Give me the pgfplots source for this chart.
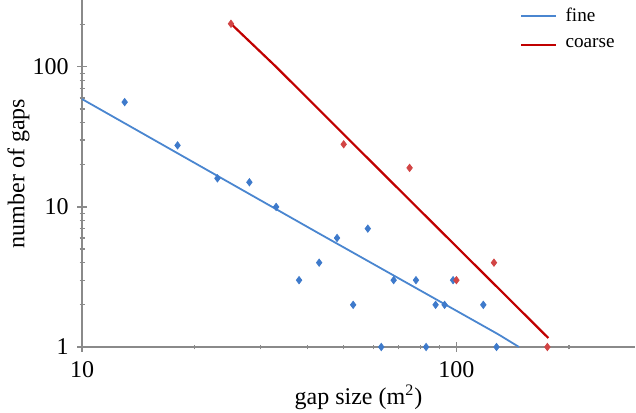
\documentclass[border=0pt]{standalone}
\usepackage{fontspec}
\setmainfont{Liberation Serif}
\usepackage{pgfplots}
\pgfplotsset{compat=1.18}
\definecolor{fineline}{HTML}{4A86D0}
\definecolor{finemark}{HTML}{3E7ACB}
\definecolor{coarseline}{HTML}{C00000}
\definecolor{coarsemark}{HTML}{D24545}
\definecolor{axgray}{HTML}{8A8A8A}
\begin{document}
\fontsize{12}{14}\selectfont
\begin{tikzpicture}
\begin{axis}[
  name=ax,
  xmode=log, ymode=log,
  scale only axis,
  width=276.5pt, height=173.5pt,
  xmin=10, xmax=300, ymin=1, ymax=300,
  axis x line*=bottom, axis y line*=left,
  axis line style={-, draw=axgray, line width=0.7pt},
  xtick={10,100}, xticklabels={10,100},
  ytick={1,10,100}, yticklabels={1,10,100},
  minor xtick={20,30,40,50,60,70,80,90,200},
  minor ytick={2,3,4,5,6,7,8,9,20,30,40,50,60,70,80,90,200},
  tick style={draw=axgray, line width=0.6pt},
  major tick length=5pt, minor tick length=2.5pt,
  tick align=center,
  /pgf/number format/assume math mode=true,
  xticklabel style={font=\fontsize{12}{14}\selectfont, anchor=north, inner sep=0pt, yshift=-4.5pt},
  yticklabel style={font=\fontsize{12}{14}\selectfont, anchor=east, inner sep=0pt, xshift=-4pt},
  xlabel={gap size (m\textsuperscript{2})},
  ylabel={number of gaps},
  xlabel style={at={(axis description cs:0.5,-0.108)}, anchor=north, inner sep=0pt, font=\fontsize{12}{14}\selectfont},
  ylabel style={at={(axis description cs:-0.094,0.5)}, anchor=south, inner sep=0pt, font=\fontsize{12}{14}\selectfont},
  legend style={draw=none, fill=none, at={(axis description cs:0.792,0.985)}, anchor=north west,
    inner sep=0pt, row sep=5pt, font=\fontsize{9.6}{11}\selectfont,
    nodes={inner sep=1pt, anchor=west},
    /tikz/every odd column/.append style={column sep=3pt}},
  legend cell align=left,
  legend image code/.code={\draw[#1] (0pt,0pt) -- (17.5pt,0pt);},
  clip=false,
]
% fine data
\addplot[only marks, mark=diamond*, mark size=1.8pt, color=finemark, forget plot] coordinates {
(13,56) (18,27.5) (23,16) (28,15) (33,10) (38,3) (43,4) (48,6) (53,2) (58,7)
(63,1) (68,3) (78,3) (83,1) (88,2) (93,2) (98,3) (118,2) (128,1)
};
% coarse data
\addplot[only marks, mark=diamond*, mark size=1.8pt, color=coarsemark, forget plot] coordinates {
(25,203) (50,28) (75,19) (100,3) (126,4) (175,1)
};
% fitted lines
\addplot[color=fineline, line width=0.9pt, mark=none] coordinates {
(10,58.9) (42.8,6.5) (129.5,1.23) (147,1)
};
\addlegendentry{fine}
\addplot[color=coarseline, line width=1.1pt, mark=none] coordinates {
(25,203) (33,100) (62.5,18.2) (176,1.16)
};
\addlegendentry{coarse}
\end{axis}
\pgfresetboundingbox
\path[use as bounding box] ([xshift=-41pt,yshift=-32.5pt]ax.south west) rectangle ([xshift=0.5pt]ax.north east);
\end{tikzpicture}
\end{document}
